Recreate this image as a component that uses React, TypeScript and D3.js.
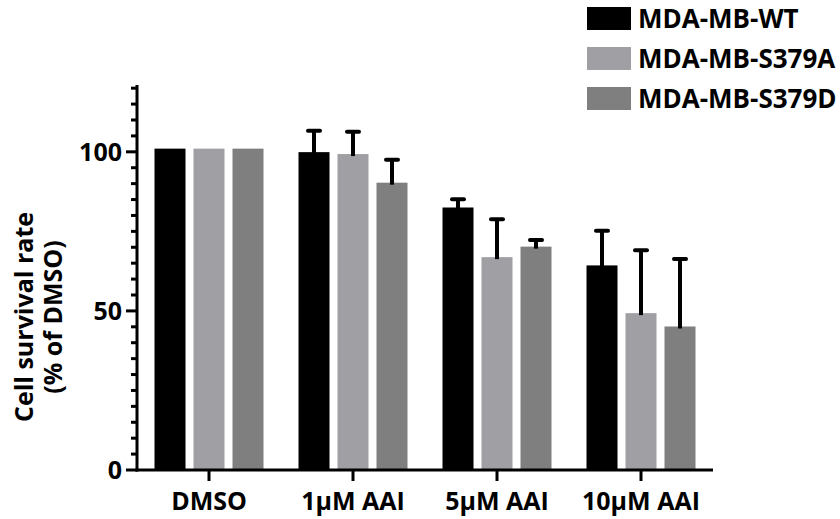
import React from 'react';
import * as d3 from 'd3';

const categories = ['DMSO', '1\u00b5M AAI', '5\u00b5M AAI', '10\u00b5M AAI'];
const seriesNames = ['MDA-MB-WT', 'MDA-MB-S379A', 'MDA-MB-S379D'];
const seriesColors = ['#000000', '#a09fa4', '#7f7f7f'];
// mean values per series, one per category
const wtValues = [101, 99.9, 82.5, 64.3];
const s379aValues = [101, 99.3, 66.9, 49.3];
const s379dValues = [101, 90.3, 70.2, 45.1];
// upper end of error bar (mean + SD)
const wtErr = [101, 106.9, 85.4, 75.5];
const s379aErr = [101, 106.6, 79.1, 69.4];
const s379dErr = [101, 97.8, 72.6, 66.6];
const yTicks = [0, 50, 100];

const W = 840;
const H = 519;
const font = "'Open Sans', sans-serif";
const fs = 25;

export default function App() {
  const values = [wtValues, s379aValues, s379dValues];
  const errs = [wtErr, s379aErr, s379dErr];

  const x = d3.scaleBand<string>().domain(categories).range([137, 713]);
  const y = d3.scaleLinear().domain([0, 121]).range([470, 85]);
  const barW = 31;
  const barStep = 39;
  const minorTicks = d3.range(0, 121, 5);

  return (
    <svg width={W} height={H} style={{ position: 'absolute', left: 0, top: 0 }} fontFamily={font}>
      {/* bars */}
      {values.map((vals, s) =>
        vals.map((v, i) => {
          const cx = (x(categories[i]) as number) + x.bandwidth() / 2 + (s - 1) * barStep;
          return (
            <rect key={`b${s}-${i}`} x={cx - barW / 2} y={y(v)} width={barW} height={y(0) - y(v)}
              fill={seriesColors[s]} />
          );
        })
      )}
      {/* error bars */}
      {errs.map((vals, s) =>
        vals.map((e, i) => {
          if (e <= values[s][i]) return null;
          const cx = (x(categories[i]) as number) + x.bandwidth() / 2 + (s - 1) * barStep;
          return (
            <g key={`e${s}-${i}`} stroke="#000">
              <line x1={cx} x2={cx} y1={y(values[s][i]) + 2} y2={y(e)} strokeWidth={4} />
              <line x1={cx - 6} x2={cx + 6} y1={y(e) + 1} y2={y(e) + 1} strokeWidth={4} strokeLinecap="round" />
            </g>
          );
        })
      )}
      {/* y axis */}
      <line x1={137} x2={137} y1={85} y2={471.5} stroke="#000" strokeWidth={3} />
      {minorTicks.map((t) => (
        <line key={`t${t}`} x1={yTicks.includes(t) ? 126 : 131} x2={137} y1={y(t)} y2={y(t)}
          stroke="#000" strokeWidth={3} />
      ))}
      {yTicks.map((t) => (
        <text key={`yl${t}`} x={122} y={y(t)} dy="0.36em" textAnchor="end" fontSize={fs} fontWeight="bold">
          {t}
        </text>
      ))}
      {/* x axis */}
      <line x1={135.5} x2={713} y1={470} y2={470} stroke="#000" strokeWidth={3} />
      {categories.map((c) => {
        const cx = (x(c) as number) + x.bandwidth() / 2;
        return (
          <g key={c}>
            <line x1={cx} x2={cx} y1={470} y2={481} stroke="#000" strokeWidth={3} />
            <text x={cx} y={510} textAnchor="middle" fontSize={fs} fontWeight="bold">{c}</text>
          </g>
        );
      })}
      {/* y label */}
      <g transform="translate(0,317) rotate(-90)">
        <text x={0} y={33} textAnchor="middle" fontSize={fs} fontWeight="bold">Cell survival rate</text>
        <text x={0} y={62} textAnchor="middle" fontSize={fs} fontWeight="bold">(% of DMSO)</text>
      </g>
      {/* legend */}
      {seriesNames.map((n, s) => (
        <g key={n} transform={`translate(587,${7 + s * 40})`}>
          <rect width={44} height={23} fill={seriesColors[s]} />
          <text x={51} y={11.5} dy="0.36em" fontSize={26} fontWeight="bold">{n}</text>
        </g>
      ))}
    </svg>
  );
}
